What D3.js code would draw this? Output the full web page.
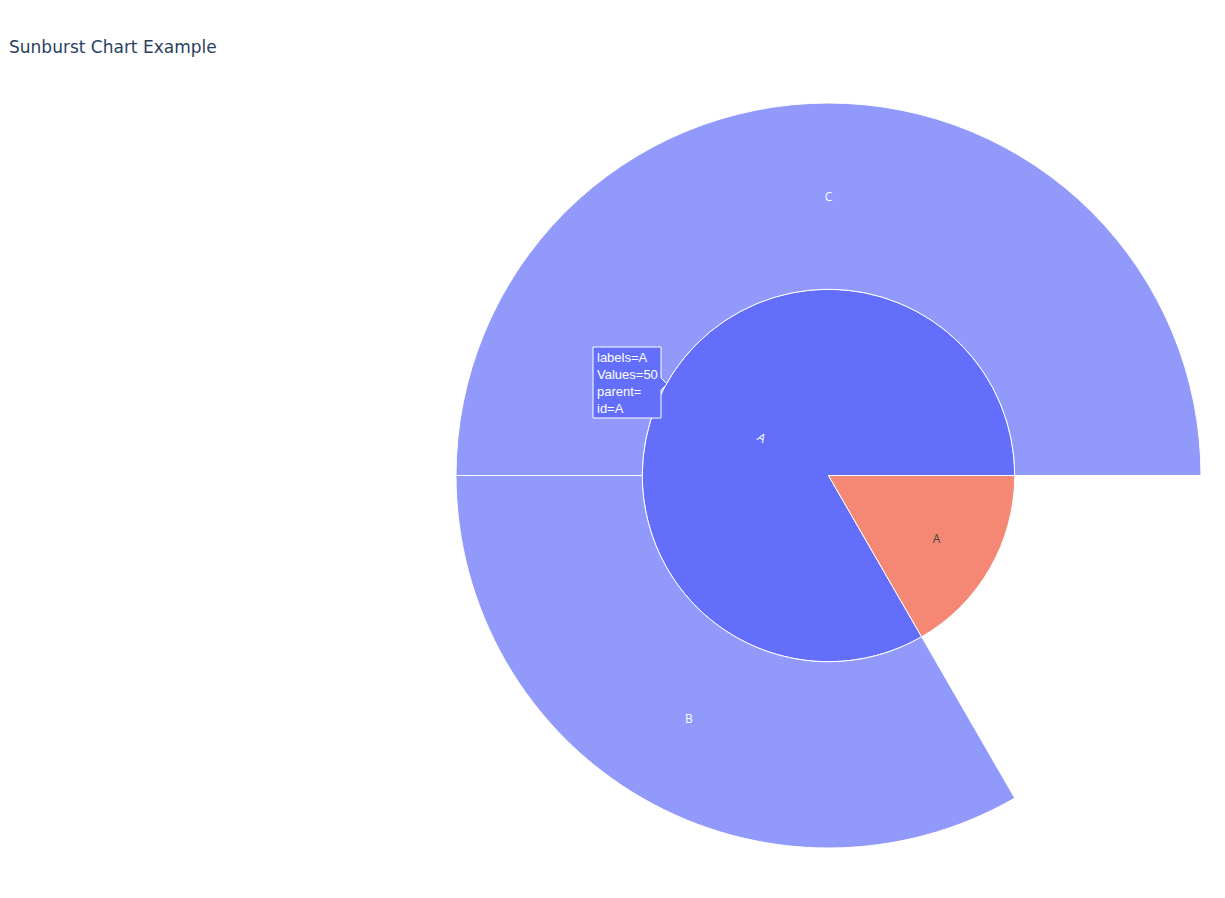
<!DOCTYPE html>
<html>
<head>
<meta charset="utf-8">
<script src="https://cdn.jsdelivr.net/npm/d3@7/dist/d3.min.js"></script>
<style>
  body { margin: 0; background: #fff; }
  svg { display: block; }
</style>
</head>
<body>
<svg id="chart" width="1225" height="898"></svg>
<script>
// sunburst data (plotly-style ids / parents)
const ids = ["A", "B", "C", "A0"];
const labels = ["A", "B", "C", "A"];
const parents = ["", "A", "A", ""];
const values = [50, 20, 30, 10];
const colors = { A: "#636efa", B: "#9199fb", C: "#9199fb", A0: "#f58874" };
const textColors = { A: "#fff", B: "#fff", C: "#fff", A0: "#444" };

const width = 1225, height = 898;
const cx = 828.5, cy = 475.5, R = 372.5;

const svg = d3.select("#chart");

svg.append("text")
  .attr("x", 9).attr("y", 53)
  .attr("font-family", "'DejaVu Sans', verdana, sans-serif")
  .attr("font-size", 17)
  .attr("fill", "#2a3f5f")
  .text("Sunburst Chart Example");

const rows = [{ id: "__root", parent: null, value: 0 }].concat(
  ids.map((id, i) => ({ id, parent: parents[i] || "__root", label: labels[i], value: values[i] }))
);

const root = d3.stratify().id(d => d.id).parentId(d => d.parent)(rows);
// parents carry their own totals
root.each(n => { n.value = n.data.value; });
root.value = d3.sum(root.children, c => c.value);
root.sort((a, b) => b.value - a.value);
d3.partition().size([1, root.height + 1])(root);

// plotly goes counter-clockwise from 3 o'clock
const angle = d3.scaleLinear().domain([0, 1]).range([Math.PI / 2, Math.PI / 2 - 2 * Math.PI]);
const radius = d3.scaleLinear().domain([1, root.height + 1]).range([0, R]);

const arc = d3.arc()
  .startAngle(d => angle(d.x0))
  .endAngle(d => angle(d.x1))
  .innerRadius(d => radius(d.y0))
  .outerRadius(d => radius(d.y1));

const g = svg.append("g").attr("transform", `translate(${cx},${cy})`);
const nodes = root.descendants().filter(d => d.depth > 0);

g.selectAll("path.slice").data(nodes).join("path")
  .attr("class", "slice")
  .attr("d", arc)
  .attr("fill", d => colors[d.data.id])
  .attr("stroke", "#fff")
  .attr("stroke-width", 1);

// label positions: ring middle for outer ring, pulled in for the inner wedges
function labelPos(d) {
  const a = angle((d.x0 + d.x1) / 2);
  const r = d.depth === 1 ? radius(d.y1) * (d.data.id === "A" ? 0.415 : 0.67) : (radius(d.y0) + radius(d.y1)) / 2;
  return [Math.sin(a) * r, -Math.cos(a) * r];
}

g.selectAll("text.slicetext").data(nodes).join("text")
  .attr("class", "slicetext")
  .attr("transform", d => {
    const [x, y] = labelPos(d);
    return d.data.id === "A" ? `translate(${x},${y + 1}) rotate(30)` : `translate(${x},${y + 1})`;
  })
  .attr("text-anchor", "middle")
  .attr("dy", "0.35em")
  .attr("font-family", "'Open Sans', verdana, sans-serif")
  .attr("font-size", 12)
  .attr("fill", d => textColors[d.data.id])
  .text(d => d.data.label);

// hover label for A
const hovered = nodes.find(d => d.data.id === "A");
const hoverLines = [
  `labels=${hovered.data.label}`,
  `Values=${hovered.data.value}`,
  `parent=${parents[ids.indexOf("A")]}`,
  `id=${hovered.data.id}`
];
const tip = [667, 384], bw = 68, bh = 71;
const hover = svg.append("g").attr("transform", `translate(${tip[0]},${tip[1]})`);
hover.append("path")
  .attr("d", `M0,0L-6,-6V-37H${-6 - bw}V${bh - 37}H-6V6Z`)
  .attr("fill", colors.A)
  .attr("stroke", "#fff")
  .attr("stroke-width", 1);
hover.append("text")
  .attr("font-family", "Arial, 'Liberation Sans', sans-serif")
  .attr("font-size", 13)
  .attr("fill", "#fff")
  .selectAll("tspan").data(hoverLines).join("tspan")
  .attr("x", -70)
  .attr("y", (d, i) => -22 + i * 17)
  .text(d => d);
</script>
</body>
</html>
